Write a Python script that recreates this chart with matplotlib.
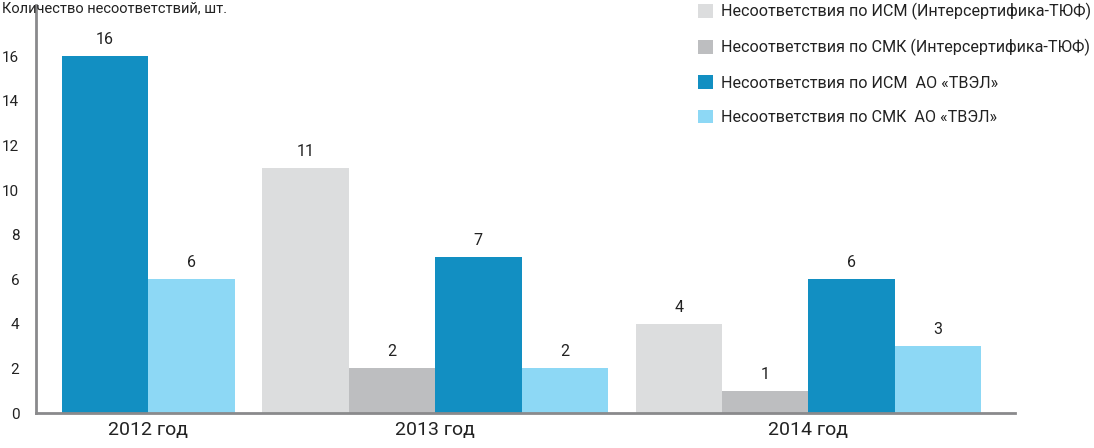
import matplotlib
matplotlib.use("Agg")
import matplotlib.pyplot as plt
from matplotlib.patches import Patch

plt.rcParams['font.family'] = ['Roboto', 'DejaVu Sans']

years = ["2012 год", "2013 год", "2014 год"]
series = ["Несоответствия по ИСМ (Интерсертифика-ТЮФ)",
          "Несоответствия по СМК (Интерсертифика-ТЮФ)",
          "Несоответствия по ИСМ  АО «ТВЭЛ»",
          "Несоответствия по СМК  АО «ТВЭЛ»"]
# None = no bar that year
ism_tuv = [None, 11, 4]
smk_tuv = [None, 2, 1]
ism_tvel = [16, 7, 6]
smk_tvel = [6, 2, 3]
colors = ["#dcddde", "#bdbec0", "#128fc2", "#8dd8f5"]
yticks = [0, 2, 4, 6, 8, 10, 12, 14, 16]

fig = plt.figure(figsize=(10.94, 4.48), dpi=100)
ax = fig.add_axes([36/1094, 35/448, (1015-36)/1094, (413-5)/448])

gap = 0.32
x = 0.0
centers = []
all_series = [ism_tuv, smk_tuv, ism_tvel, smk_tvel]
for i, yr in enumerate(years):
    start = x
    for s, vals in enumerate(all_series):
        v = vals[i]
        if v is None:
            continue
        ax.bar(x, v, width=1.0, align='edge', color=colors[s], linewidth=0)
        ax.text(x + 0.5, v + 0.4, str(v), ha='center', va='bottom',
                fontsize=11.5, color='#222222')
        x += 1.0
    centers.append((start + x) / 2)
    x += gap

ax.set_xlim(-0.30, x - gap + 0.39)
ax.set_ylim(0, 18.3)
ax.set_yticks(yticks)
ax.set_xticks(centers)
ax.set_xticklabels(years, fontsize=14, color='#222222')
ax.tick_params(axis='y', length=0, labelsize=11, labelcolor='#222222', pad=12)
ax.tick_params(axis='x', length=0, pad=6)
for sp in ['top', 'right']:
    ax.spines[sp].set_visible(False)
for sp in ['left', 'bottom']:
    ax.spines[sp].set_color('#8a8a8c')
    ax.spines[sp].set_linewidth(2)

fig.text(2/1094, 1 - 1/448, "Количество несоответствий, шт.", ha='left',
         va='top', fontsize=10.5, color='#222222')

handles = [Patch(color=c, linewidth=0) for c in colors]
fig.legend(handles, series, loc='upper left', bbox_to_anchor=(688/1094, 1.015),
           frameon=False, fontsize=11.6, handlelength=0.95, handleheight=0.95,
           handletextpad=0.5, labelspacing=1.17, labelcolor='#222222',
           borderaxespad=0.2)

fig.savefig("out.png", dpi=100)
